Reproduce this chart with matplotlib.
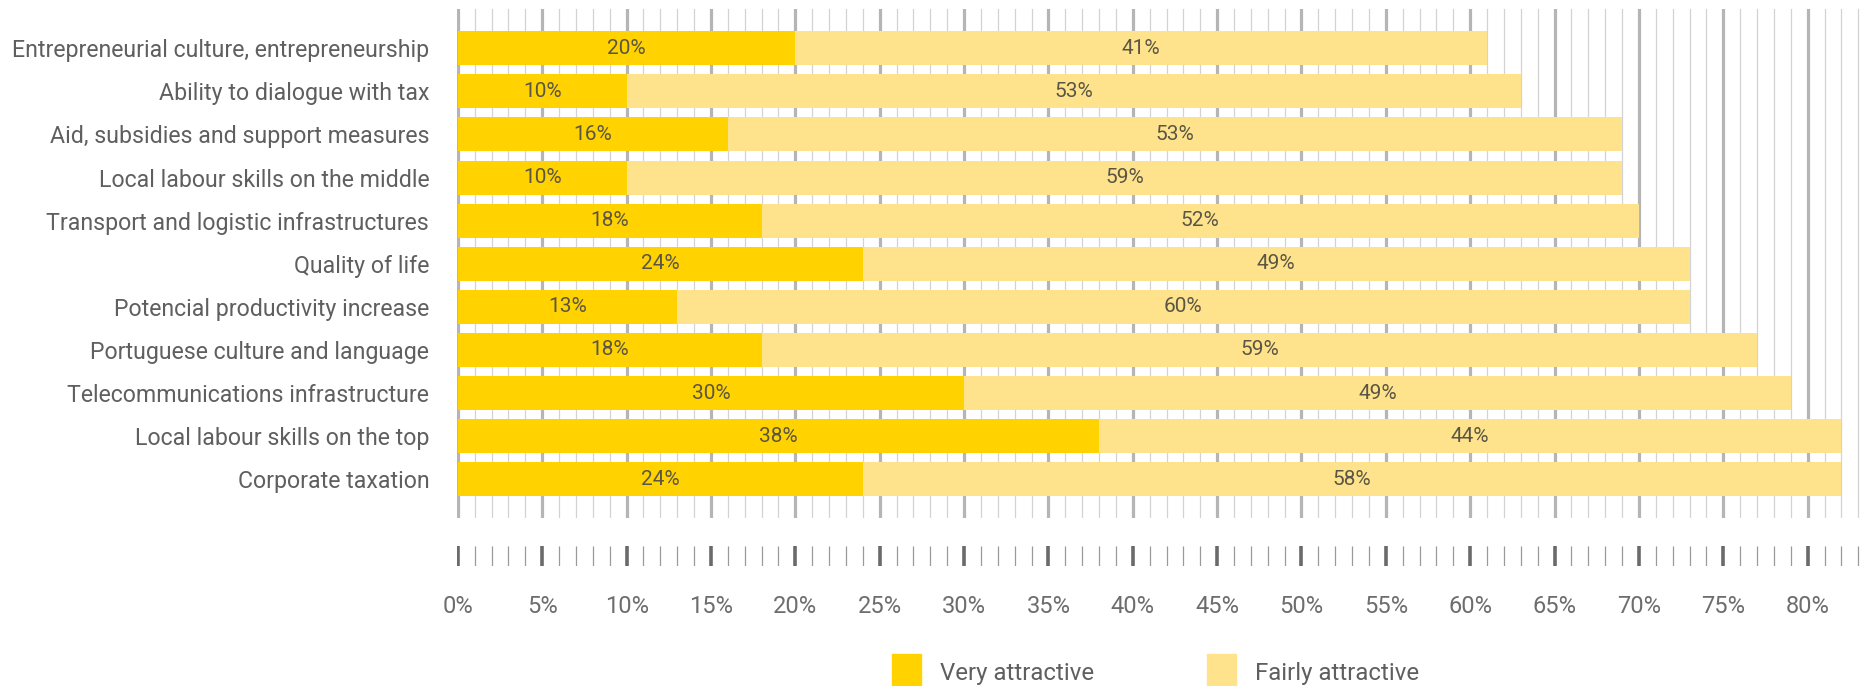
import numpy as np
import matplotlib.pyplot as plt
from matplotlib.patches import Patch

# data, top to bottom
categories = [
    "Entrepreneurial culture, entrepreneurship",
    "Ability to dialogue with tax",
    "Aid, subsidies and support measures",
    "Local labour skills on the middle",
    "Transport and logistic infrastructures",
    "Quality of life",
    "Potencial productivity increase",
    "Portuguese culture and language",
    "Telecommunications infrastructure",
    "Local labour skills on the top",
    "Corporate taxation",
]
very_attractive = [20, 10, 16, 10, 18, 24, 13, 18, 30, 38, 24]
fairly_attractive = [41, 53, 53, 59, 52, 49, 60, 59, 49, 44, 58]
tick_values = list(range(0, 85, 5))
tick_labels = [f"{v}%" for v in tick_values]
series_names = ["Very attractive", "Fairly attractive"]

plt.rcParams['font.family'] = ['Roboto', 'DejaVu Sans']

YELLOW = "#FFD200"
LIGHT = "#FFE38C"
TXT = "#5f5f5f"
XMAX = 83.1

fig = plt.figure(figsize=(18.6, 6.86), dpi=100)
ax = fig.add_axes([457 / 1860, 1 - 518 / 686, 1 - 457 / 1860, (518 - 9.5) / 686])

y = np.arange(len(categories))
very = np.array(very_attractive)
fairly = np.array(fairly_attractive)

# grid lines every 1%, heavier every 5%
for v in range(0, 84):
    major = v % 5 == 0
    ax.axvline(v, color="#b5b5b5" if major else "#d3d3d3",
               lw=2.3 if major else 0.9, zorder=0)

h = 0.79
ax.barh(y, very, height=h, color=YELLOW, zorder=2)
ax.barh(y, fairly, left=very, height=h, color=LIGHT, zorder=2)

for i in range(len(y)):
    ax.text(very[i] / 2, y[i], f"{very[i]}%", ha="center", va="center",
            fontsize=15, color="#5a5646", zorder=3)
    ax.text(very[i] + fairly[i] / 2, y[i], f"{fairly[i]}%", ha="center",
            va="center", fontsize=15, color="#5a5646", zorder=3)

ax.set_xlim(-0.05, XMAX)
ax.set_ylim(len(categories) - 1 + 0.9, -0.9)
ax.set_yticks(y)
ax.set_yticklabels(categories, fontsize=16.7, color=TXT)
ax.tick_params(axis="y", length=0, pad=20)
ax.set_xticks([])
for s in ax.spines.values():
    s.set_visible(False)

# separate tick strip under the plot
ax2 = fig.add_axes([457 / 1860, 1 - 566 / 686, 1 - 457 / 1860, 20 / 686])
for v in range(0, 84):
    major = v % 5 == 0
    ax2.vlines(v, 0, 1, color="#6a6a6a" if major else "#9a9a9a",
               lw=2.6 if major else 0.9)
ax2.set_xlim(-0.05, XMAX)
ax2.set_ylim(0, 1)
ax2.set_yticks([])
ax2.set_xticks(tick_values)
ax2.set_xticklabels(tick_labels, fontsize=17, color="#6d6d6d")
ax2.tick_params(axis="x", length=0, pad=21)
for s in ax2.spines.values():
    s.set_visible(False)

handles = [Patch(color=YELLOW), Patch(color=LIGHT)]
fig.legend(handles, series_names, loc="center left", bbox_to_anchor=(880 / 1860, 1 - 672 / 686),
           ncol=2, frameon=False, fontsize=17.3, handlelength=1.2, handleheight=1.9,
           columnspacing=4.7, handletextpad=0.8, labelcolor=TXT, borderpad=0)

fig.savefig("out.png", dpi=100, facecolor="white")
